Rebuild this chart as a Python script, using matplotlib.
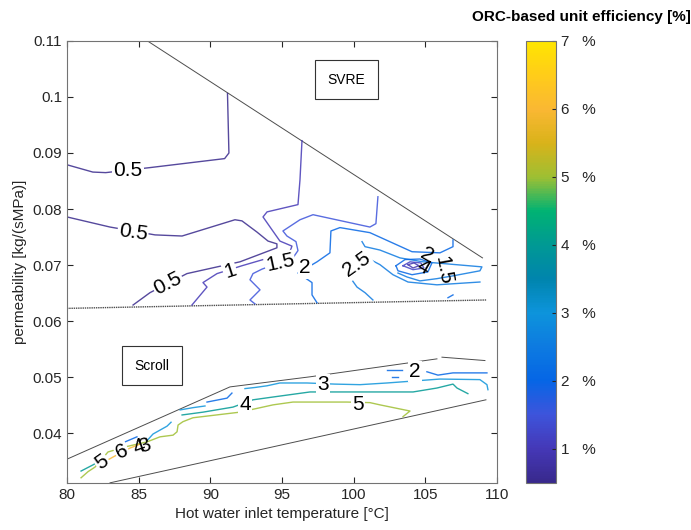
import numpy as np
import matplotlib.pyplot as plt
from matplotlib.colors import LinearSegmentedColormap, Normalize
from matplotlib.cm import ScalarMappable
from matplotlib.ticker import FuncFormatter

plt.rcParams['font.family'] = ['Liberation Sans', 'DejaVu Sans']

# colour scale (efficiency in %)
cmap_vals = [0.5, 1.0, 1.5, 2.0, 2.5, 3.0, 3.5, 4.0, 4.5, 5.0, 5.5, 6.0, 6.5, 7.0]
cmap_cols = [(0.22, 0.16, 0.55), (0.27, 0.22, 0.72), (0.24, 0.33, 0.86),
             (0.02, 0.40, 0.90), (0.05, 0.48, 0.88), (0.05, 0.58, 0.86),
             (0.00, 0.52, 0.68), (0.00, 0.60, 0.58), (0.00, 0.70, 0.45),
             (0.62, 0.75, 0.20), (0.85, 0.70, 0.10), (0.98, 0.72, 0.20),
             (1.00, 0.80, 0.10), (1.00, 0.90, 0.00)]
vmin, vmax = 0.5, 7.0

# region boundaries (temperature degC, permeability kg/(sMPa))
svre_top_x = [85.6, 109.0]
svre_top_y = [0.1100, 0.0713]
svre_bot_x = [80.0, 109.3]
svre_bot_y = [0.0623, 0.0638]
scroll_top_x = [80.07, 91.37, 96.96, 105.82]
scroll_top_y = [0.0355, 0.0483, 0.0501, 0.0533]
scroll_top2_x = [106.17, 109.17]
scroll_top2_y = [0.0536, 0.0530]
scroll_bot_x = [83.0, 109.24]
scroll_bot_y = [0.0312, 0.0460]

# SVRE contour lines
svre_05a_x = [80.0, 81.8, 82.7, 85.8, 91.0, 91.3, 91.2]
svre_05a_y = [0.0879, 0.0866, 0.0865, 0.0874, 0.0890, 0.0900, 0.1006]
svre_05b_x = [80.0, 83.0, 86.14, 88.03, 91.72, 92.21, 93.26, 94.03, 94.65, 94.65,
              92.07, 88.37, 85.79, 84.61]
svre_05b_y = [0.0786, 0.0768, 0.0754, 0.0752, 0.0781, 0.0779, 0.0759, 0.0743, 0.0738,
              0.0731, 0.0706, 0.0685, 0.0651, 0.0629]
svre_1_x = [88.72, 89.77, 89.49, 90.47, 92.21, 95.56, 95.70, 94.86, 94.31, 93.68,
            93.96, 96.12, 96.26, 96.40]
svre_1_y = [0.0629, 0.0661, 0.0669, 0.0685, 0.0699, 0.0724, 0.0734, 0.0743, 0.0763,
            0.0786, 0.0795, 0.0808, 0.0852, 0.0922]
svre_15_x = [93.12, 92.77, 93.47, 92.77, 92.98, 93.61, 95.77, 96.12, 95.98, 95.35,
             95.07, 96.26, 97.17, 101.14, 101.56, 101.70]
svre_15_y = [0.0631, 0.0638, 0.0656, 0.0674, 0.0685, 0.0693, 0.0713, 0.0726, 0.0742,
             0.0752, 0.0761, 0.0781, 0.0790, 0.0768, 0.0774, 0.0822]
svre_2_x = [97.45, 97.10, 97.10, 96.12, 97.45, 98.35, 98.42, 99.05, 101.14, 104.08,
            106.03, 106.94, 106.94]
svre_2_y = [0.0633, 0.0647, 0.0669, 0.0686, 0.0706, 0.0722, 0.0761, 0.0767, 0.0758,
            0.0724, 0.0722, 0.0733, 0.0745]
svre_2b_x = [106.59, 106.94]
svre_2b_y = [0.0642, 0.0647]
svre_25_x = [101.35, 100.80, 100.24, 99.54, 100.94, 101.84, 102.75, 103.80, 105.82, 108.82]
svre_25_y = [0.0638, 0.0651, 0.0661, 0.0686, 0.0713, 0.0701, 0.0683, 0.0670, 0.0665, 0.0670]
svre_3_x = [100.59, 100.80, 101.84, 103.24, 104.84, 108.96, 108.82, 106.94, 105.82,
            104.63, 103.73, 103.10]
svre_3_y = [0.0742, 0.0733, 0.0727, 0.0713, 0.0706, 0.0697, 0.0690, 0.0681, 0.0676,
            0.0672, 0.0679, 0.0686]
peak_r1_x = [102.96, 103.59, 104.63, 105.47, 105.19, 104.08, 103.10, 102.96]
peak_r1_y = [0.0699, 0.0710, 0.0711, 0.0704, 0.0688, 0.0683, 0.0690, 0.0699]
peak_r2_x = [103.45, 103.94, 104.70, 104.91, 104.15, 103.45]
peak_r2_y = [0.0699, 0.0706, 0.0704, 0.0695, 0.0692, 0.0699]
peak_r3_x = [103.80, 104.22, 104.56, 104.15, 103.80]
peak_r3_y = [0.0701, 0.0704, 0.0699, 0.0695, 0.0701]

# Scroll contour lines
scroll_2a_x = [89.77, 91.17, 91.51]
scroll_2a_y = [0.0456, 0.0463, 0.0472]
scroll_2b_x = [102.33, 103.38]
scroll_2b_y = [0.0513, 0.0513]
scroll_2c_x = [102.68, 103.10]
scroll_2c_y = [0.0501, 0.0501]
scroll_2d_x = [105.12, 105.89, 106.94, 109.31]
scroll_2d_y = [0.0510, 0.0504, 0.0508, 0.0508]
scroll_2e_x = [84.05, 84.88]
scroll_2e_y = [0.0385, 0.0394]
scroll_3a_x = [85.58, 86.00, 86.49, 86.98, 87.26]
scroll_3a_y = [0.0387, 0.0399, 0.0406, 0.0413, 0.0420]
scroll_3b_x = [87.89, 88.79, 89.63]
scroll_3b_y = [0.0442, 0.0446, 0.0449]
scroll_3c_x = [92.42, 93.12, 93.96, 94.86, 96.75, 98.70, 100.45, 102.33, 106.03,
               108.82, 109.31, 109.38]
scroll_3c_y = [0.0480, 0.0482, 0.0485, 0.0490, 0.0490, 0.0488, 0.0487, 0.0490, 0.0497,
               0.0496, 0.0487, 0.0478]
scroll_4a_x = [80.98, 81.81, 82.30]
scroll_4a_y = [0.0333, 0.0344, 0.0351]
scroll_4b_x = [88.03, 89.49, 91.58, 92.98, 94.38, 96.96, 99.75, 104.15, 105.82,
               106.94, 107.22, 107.98]
scroll_4b_y = [0.0433, 0.0438, 0.0447, 0.0460, 0.0465, 0.0474, 0.0474, 0.0474, 0.0481,
               0.0488, 0.0481, 0.0471]
scroll_5_x = [80.98, 81.47, 81.95, 82.86, 84.05, 85.58, 86.49, 87.40, 87.68, 87.75,
              88.09, 88.79, 92.07, 94.38, 95.77, 99.54, 101.14, 101.84, 103.94, 103.45]
scroll_5_y = [0.0321, 0.0332, 0.0340, 0.0367, 0.0376, 0.0385, 0.0394, 0.0397, 0.0403,
              0.0415, 0.0421, 0.0428, 0.0438, 0.0451, 0.0456, 0.0456, 0.0455, 0.0451,
              0.0440, 0.0430]
scroll_6_x = [82.44, 82.86, 83.21, 84.40, 85.09]
scroll_6_y = [0.0344, 0.0353, 0.0358, 0.0374, 0.0381]

# inline contour labels (the last flag: white background that breaks the line)
lab_text = ['0.5', '0.5', '0.5', '1', '1.5', '2', '2.5', '2', '4', '1.5',
            '5', '6', '4', '3', '4', '3', '5', '2']
lab_x = [84.26, 84.6, 87.05, 91.37, 94.86, 96.61, 100.24, 105.12, 104.84, 106.24,
         82.44, 83.84, 85.05, 85.40, 92.42, 97.86, 100.31, 104.28]
lab_y = [0.0868, 0.0758, 0.0667, 0.0689, 0.0704, 0.0695, 0.0701, 0.0718, 0.0697, 0.0690,
         0.0349, 0.0367, 0.0376, 0.0378, 0.0451, 0.0487, 0.0451, 0.0510]
lab_rot = [0, -8, 27, 18, 12, 0, 35, -30, -30, -80,
           35, 25, 20, 20, 0, 0, 0, 0]
lab_gap = [True, True, True, True, True, True, True, False, False, False,
           True, True, False, False, True, True, True, True]

cmap = LinearSegmentedColormap.from_list(
    'parula_like', [((v - vmin) / (vmax - vmin), c) for v, c in zip(cmap_vals, cmap_cols)])
norm = Normalize(vmin=vmin, vmax=vmax)

lines = [
    (0.5, svre_05a_x, svre_05a_y), (0.5, svre_05b_x, svre_05b_y),
    (1.0, svre_1_x, svre_1_y), (1.5, svre_15_x, svre_15_y),
    (2.0, svre_2_x, svre_2_y), (2.0, svre_2b_x, svre_2b_y),
    (2.5, svre_25_x, svre_25_y), (2.5, svre_3_x, svre_3_y),
    (2.0, peak_r1_x, peak_r1_y), (1.2, peak_r2_x, peak_r2_y), (0.9, peak_r3_x, peak_r3_y),
    (2.0, scroll_2a_x, scroll_2a_y), (2.0, scroll_2b_x, scroll_2b_y),
    (2.0, scroll_2c_x, scroll_2c_y), (2.0, scroll_2d_x, scroll_2d_y),
    (2.0, scroll_2e_x, scroll_2e_y),
    (3.0, scroll_3a_x, scroll_3a_y), (3.0, scroll_3b_x, scroll_3b_y),
    (3.0, scroll_3c_x, scroll_3c_y),
    (4.0, scroll_4a_x, scroll_4a_y), (4.0, scroll_4b_x, scroll_4b_y),
    (5.0, scroll_5_x, scroll_5_y), (6.0, scroll_6_x, scroll_6_y),
]

fig = plt.figure(figsize=(6.91, 5.30), dpi=100)
ax = fig.add_axes([0.097, 0.089, 0.622, 0.834])

# boundaries of the two expander regions
bcol = '0.3'
ax.plot(svre_top_x, svre_top_y, color=bcol, lw=0.7)
ax.plot(svre_bot_x, svre_bot_y, color=bcol, lw=1.0, ls=(0, (1, 0.6)))
ax.plot(scroll_top_x, scroll_top_y, color=bcol, lw=0.7)
ax.plot(scroll_top2_x, scroll_top2_y, color=bcol, lw=0.7)
ax.plot(scroll_bot_x, scroll_bot_y, color=bcol, lw=0.7)

for lev, xs, ys in lines:
    ax.plot(xs, ys, color=cmap(norm(lev)), lw=1.0, alpha=0.85)

for t, x, y, r, g in zip(lab_text, lab_x, lab_y, lab_rot, lab_gap):
    bb = dict(boxstyle='square,pad=0.05', fc='white', ec='none') if g else None
    ax.text(x, y, t, fontsize=15, rotation=r, ha='center', va='center',
            rotation_mode='anchor', color='black', bbox=bb)

ax.text(99.5, 0.1031, 'SVRE', fontsize=10, ha='center', va='center',
        bbox=dict(boxstyle='square,pad=0.9', fc='white', ec='0.2', lw=0.8))
ax.text(85.9, 0.0521, 'Scroll', fontsize=10, ha='center', va='center',
        bbox=dict(boxstyle='square,pad=0.9', fc='white', ec='0.2', lw=0.8))

ax.set_xlim(80, 110)
ax.set_ylim(0.0312, 0.11)
ax.set_xticks(np.arange(80, 111, 5))
ax.set_yticks(np.arange(0.04, 0.111, 0.01))
ax.yaxis.set_major_formatter(FuncFormatter(lambda v, p: '%g' % round(v, 3)))
ax.tick_params(direction='in', top=True, right=True, length=4, labelsize=11,
               colors='0.15', width=0.8)
for s in ax.spines.values():
    s.set_color('0.45')
    s.set_linewidth(0.8)
ax.set_xlabel('Hot water inlet temperature [°C]', fontsize=11, color='0.15')
ax.set_ylabel('permeability [kg/(sMPa)]', fontsize=11, color='0.15')

cax = fig.add_axes([0.761, 0.089, 0.0434, 0.834])
sm = ScalarMappable(norm=norm, cmap=cmap)
cb = fig.colorbar(sm, cax=cax, ticks=[1, 2, 3, 4, 5, 6, 7])
cb.ax.set_yticklabels(['%d   %%' % v for v in range(1, 8)])
cb.ax.tick_params(direction='in', length=3, labelsize=11, colors='0.15', width=0.8)
cb.outline.set_edgecolor('0.45')
cb.outline.set_linewidth(0.8)
fig.text(0.842, 0.967, 'ORC-based unit efficiency [%]', fontsize=11,
         fontweight='bold', ha='center', va='center')

fig.savefig('out.png', dpi=100)
